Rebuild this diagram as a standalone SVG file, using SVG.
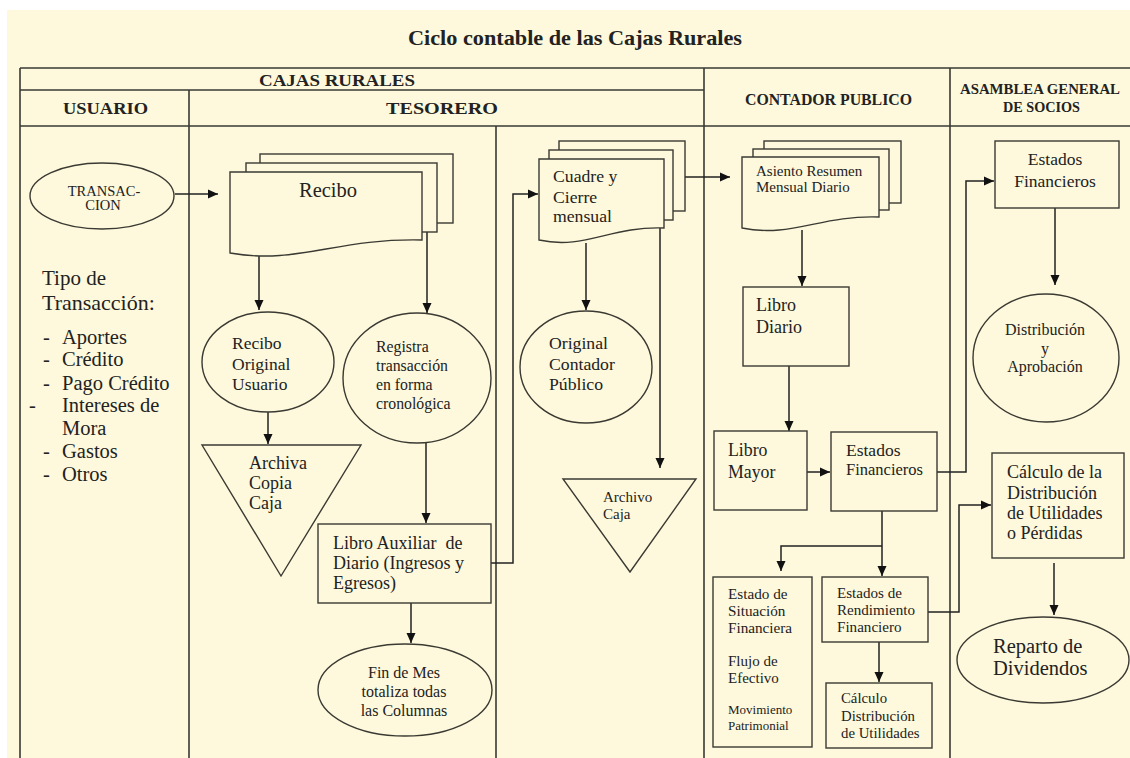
<svg xmlns="http://www.w3.org/2000/svg" width="1130" height="758" viewBox="0 0 1130 758">
<defs>
<style>
text{font-family:"Liberation Serif","Times New Roman",serif;fill:#222;dominant-baseline:central}
.h{font-weight:bold}
.grid{stroke:#3a3a33;stroke-width:1.6;fill:none}
.s{fill:#FEF9DC;stroke:#3a3a33;stroke-width:1.4}
.c{fill:none;stroke:#222;stroke-width:1.5}
.m{text-anchor:middle}
</style>
<marker id="ah" viewBox="0 0 10 10" refX="10" refY="5" markerWidth="10" markerHeight="10" markerUnits="userSpaceOnUse" orient="auto"><path d="M0,0.5 L10,5 L0,9.5 Z" fill="#111"/></marker>
</defs>
<rect x="0" y="0" width="1130" height="758" fill="#ffffff"/>
<rect x="7" y="10" width="1123" height="748" fill="#FEF9DC"/>
<text class="h" x="408" y="38" font-size="21" textLength="334" lengthAdjust="spacingAndGlyphs">Ciclo contable de las Cajas Rurales</text>

<g id="table" class="grid">
<path d="M20,68 H1130 M20,90 H704 M20,126 H1130 M20,68 V758 M189,90 V758 M496,126 V758 M704,68 V758 M950,68 V758"/>
</g>
<g id="headers">
<text class="h" x="259" y="80" font-size="16" textLength="156" lengthAdjust="spacingAndGlyphs">CAJAS RURALES</text>
<text class="h" x="63" y="108" font-size="17" textLength="85" lengthAdjust="spacingAndGlyphs">USUARIO</text>
<text class="h" x="386" y="108" font-size="17" textLength="112" lengthAdjust="spacingAndGlyphs">TESORERO</text>
<text class="h" x="745" y="99" font-size="16" textLength="167" lengthAdjust="spacingAndGlyphs">CONTADOR PUBLICO</text>
<text class="h" x="960" y="89" font-size="14" textLength="160" lengthAdjust="spacingAndGlyphs">ASAMBLEA GENERAL</text>
<text class="h" x="1003" y="107" font-size="14" textLength="77" lengthAdjust="spacingAndGlyphs">DE SOCIOS</text>
</g>

<g id="connectors">
<path class="c" d="M175,194 H218" marker-end="url(#ah)"/>
<path class="c" d="M259,256 V310" marker-end="url(#ah)"/>
<path class="c" d="M427,232 V313" marker-end="url(#ah)"/>
<path class="c" d="M268,393 V444" marker-end="url(#ah)"/>
<path class="c" d="M426,443 V523" marker-end="url(#ah)"/>
<path class="c" d="M411,603 V643" marker-end="url(#ah)"/>
<path class="c" d="M491,563 H513 V194 H538" marker-end="url(#ah)"/>
<path class="c" d="M586,243 V310" marker-end="url(#ah)"/>
<path class="c" d="M660,228 V468" marker-end="url(#ah)"/>
<path class="c" d="M685,177 H730" marker-end="url(#ah)"/>
<path class="c" d="M802,230 V286" marker-end="url(#ah)"/>
<path class="c" d="M789,366 V431" marker-end="url(#ah)"/>
<path class="c" d="M807,472 H830" marker-end="url(#ah)"/>
<path class="c" d="M937,472 H966 V181 H994" marker-end="url(#ah)"/>
<path class="c" d="M1055,208 V285" marker-end="url(#ah)"/>
<path class="c" d="M882,511 V576" marker-end="url(#ah)"/>
<path class="c" d="M882,546 H781 V571" marker-end="url(#ah)"/>
<path class="c" d="M879,642 V682" marker-end="url(#ah)"/>
<path class="c" d="M928,612 H959 V505 H991" marker-end="url(#ah)"/>
<path class="c" d="M1054,563 V615" marker-end="url(#ah)"/>
</g>

<g id="transaccion">
<ellipse class="s" cx="102" cy="196" rx="72" ry="33"/>
<text class="m" x="104" y="191" font-size="14.5">TRANSAC-</text>
<text class="m" x="103" y="205" font-size="14.5">CION</text>
</g>

<g id="tipo">
<text x="42" y="278" font-size="21">Tipo de</text>
<text x="42" y="302" font-size="22">Transacción:</text>
<text x="43" y="337" font-size="20.5">-</text><text x="62" y="337" font-size="20.5">Aportes</text>
<text x="43" y="359" font-size="20.5">-</text><text x="62" y="359" font-size="20.5">Crédito</text>
<text x="43" y="383" font-size="20.5">-</text><text x="62" y="383" font-size="20.5">Pago Crédito</text>
<text x="29" y="405" font-size="20.5">-</text><text x="62" y="405" font-size="20.5">Intereses de</text>
<text x="62" y="428" font-size="20.5">Mora</text>
<text x="43" y="451" font-size="20.5">-</text><text x="62" y="451" font-size="20.5">Gastos</text>
<text x="43" y="474" font-size="20.5">-</text><text x="62" y="474" font-size="20.5">Otros</text>
</g>

<g id="recibo">
<rect class="s" x="260" y="154" width="193" height="69"/>
<rect class="s" x="246" y="163" width="191" height="69"/>
<path class="s" d="M230,172 H422 V240 C336,238 297,265 230,253 Z"/>
<text x="299" y="190" font-size="20.5">Recibo</text>
</g>

<g id="recibo-original">
<ellipse class="s" cx="268" cy="362" rx="66" ry="50"/>
<text x="232" y="343" font-size="17.5">Recibo</text>
<text x="232" y="364" font-size="17.5">Original</text>
<text x="232" y="384" font-size="17.5">Usuario</text>
</g>

<g id="registra">
<ellipse class="s" cx="417" cy="378" rx="74" ry="65"/>
<text x="376" y="346" font-size="15.8">Registra</text>
<text x="376" y="365" font-size="15.8">transacción</text>
<text x="376" y="384" font-size="15.8">en forma</text>
<text x="376" y="403" font-size="15.8">cronológica</text>
</g>

<g id="archiva-copia">
<path class="s" d="M202,445 H361 L281,576 Z"/>
<text x="249" y="463" font-size="18">Archiva</text>
<text x="249" y="483" font-size="18">Copia</text>
<text x="249" y="503" font-size="18">Caja</text>
</g>

<g id="libro-auxiliar">
<rect class="s" x="318" y="524" width="173" height="79"/>
<text x="333" y="543" font-size="18" xml:space="preserve">Libro Auxiliar  de</text>
<text x="333" y="563" font-size="18">Diario (Ingresos y</text>
<text x="333" y="583" font-size="18">Egresos)</text>
</g>

<g id="fin-de-mes">
<ellipse class="s" cx="405" cy="690" rx="87" ry="46"/>
<text class="m" x="404" y="672" font-size="16">Fin de Mes</text>
<text class="m" x="404" y="691" font-size="16">totaliza todas</text>
<text class="m" x="404" y="710" font-size="16">las Columnas</text>
</g>

<g id="cuadre">
<rect class="s" x="559" y="141" width="126" height="70"/>
<rect class="s" x="549" y="150" width="124" height="70"/>
<path class="s" d="M539,159 H664 V228 C610,226 585,250 539,240 Z"/>
<text x="553" y="176" font-size="17.7">Cuadre y</text>
<text x="553" y="197" font-size="17.7">Cierre</text>
<text x="553" y="216" font-size="17.7">mensual</text>
</g>

<g id="original-contador">
<ellipse class="s" cx="586" cy="367" rx="66" ry="56"/>
<text x="549" y="343" font-size="17.7">Original</text>
<text x="549" y="364" font-size="17.7">Contador</text>
<text x="549" y="384" font-size="17.7">Público</text>
</g>

<g id="archivo-caja">
<path class="s" d="M563,479 H696 L630,572 Z"/>
<text x="603" y="497" font-size="15">Archivo</text>
<text x="603" y="514" font-size="15">Caja</text>
</g>

<g id="asiento">
<rect class="s" x="764" y="141" width="137" height="62"/>
<rect class="s" x="753" y="149" width="136" height="61"/>
<path class="s" d="M742,157 H879 V217 C820,215 792,238 742,228 Z"/>
<text x="756" y="171" font-size="15">Asiento Resumen</text>
<text x="756" y="187" font-size="15">Mensual Diario</text>
</g>

<g id="libro-diario">
<rect class="s" x="743" y="287" width="106" height="79"/>
<text x="756" y="305" font-size="18">Libro</text>
<text x="756" y="327" font-size="18">Diario</text>
</g>

<g id="libro-mayor">
<rect class="s" x="714" y="431" width="93" height="79"/>
<text x="728" y="450" font-size="17.8">Libro</text>
<text x="728" y="472" font-size="17.8">Mayor</text>
</g>

<g id="estados-financieros-cp">
<rect class="s" x="831" y="432" width="106" height="79"/>
<text x="846" y="450" font-size="17.5">Estados</text>
<text x="846" y="469" font-size="16.5">Financieros</text>
</g>

<g id="estado-situacion">
<rect class="s" x="713" y="577" width="99" height="170"/>
<text x="728" y="593" font-size="15.2">Estado de</text>
<text x="728" y="610" font-size="15.2">Situación</text>
<text x="728" y="627" font-size="15.2">Financiera</text>
<text x="728" y="661" font-size="15">Flujo de</text>
<text x="728" y="678" font-size="15">Efectivo</text>
<text x="728" y="709" font-size="13">Movimiento</text>
<text x="728" y="725" font-size="13">Patrimonial</text>
</g>

<g id="estados-rendimiento">
<rect class="s" x="822" y="577" width="106" height="65"/>
<text x="837" y="593" font-size="15.1">Estados de</text>
<text x="837" y="610" font-size="15.1">Rendimiento</text>
<text x="837" y="627" font-size="15.1">Financiero</text>
</g>

<g id="calculo-distribucion">
<rect class="s" x="826" y="683" width="106" height="65"/>
<text x="841" y="698" font-size="14.8">Cálculo</text>
<text x="841" y="716" font-size="14.8">Distribución</text>
<text x="841" y="733" font-size="14.8">de Utilidades</text>
</g>

<g id="estados-financieros-as">
<rect class="s" x="995" y="141" width="124" height="67"/>
<text class="m" x="1055" y="159" font-size="17.5">Estados</text>
<text class="m" x="1055" y="181" font-size="17.5">Financieros</text>
</g>

<g id="distribucion-aprobacion">
<ellipse class="s" cx="1046" cy="358" rx="73" ry="64"/>
<text class="m" x="1045" y="329" font-size="16">Distribución</text>
<text class="m" x="1045" y="348" font-size="16">y</text>
<text class="m" x="1045" y="366" font-size="16">Aprobación</text>
</g>

<g id="calculo-utilidades">
<rect class="s" x="992" y="453" width="132" height="105"/>
<text x="1007" y="472" font-size="18">Cálculo de la</text>
<text x="1007" y="493" font-size="18">Distribución</text>
<text x="1007" y="513" font-size="18">de Utilidades</text>
<text x="1007" y="533" font-size="18">o Pérdidas</text>
</g>

<g id="reparto">
<ellipse class="s" cx="1043" cy="660" rx="86" ry="43"/>
<text x="993" y="646" font-size="20.5">Reparto de</text>
<text x="993" y="668" font-size="20.5">Dividendos</text>
</g>
</svg>
